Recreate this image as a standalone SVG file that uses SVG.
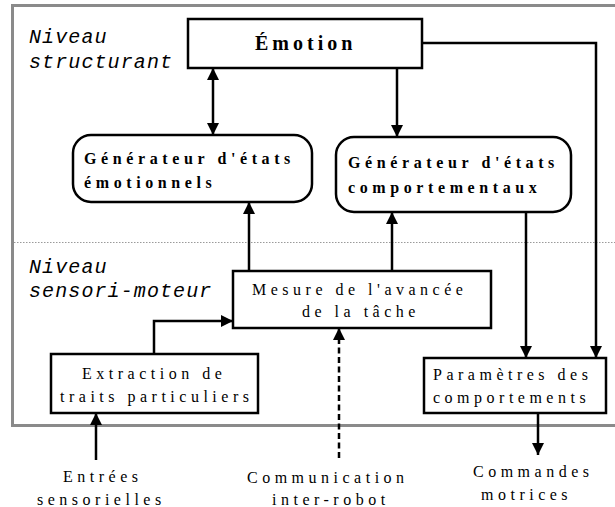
<svg xmlns="http://www.w3.org/2000/svg" width="615" height="507" viewBox="0 0 615 507">
<style>
.frame{fill:none;stroke:#8a8a8a;stroke-width:3}
.sep{stroke:#9a9a9a;stroke-width:1;stroke-dasharray:1.5 1.5}
.box{fill:#fff;stroke:#000;stroke-width:2.5}
.ln{fill:none;stroke:#000;stroke-width:2.5}
.dash{stroke-dasharray:6 3.5}
.t{font-family:'Liberation Serif','Times New Roman',Times,'DejaVu Serif',serif;font-size:16px;letter-spacing:4.5px;fill:#000}
.b{font-family:'Liberation Serif','Times New Roman',Times,'DejaVu Serif',serif;font-size:16px;font-weight:bold;letter-spacing:4.6px;fill:#000}
.big{font-size:20px;letter-spacing:4px}
.lvl{font-family:'Liberation Mono','Courier New',Courier,monospace;font-style:italic;font-size:20px;letter-spacing:1.1px;fill:#000}
</style>
<defs>
<marker id="ah" viewBox="0 0 12 12" refX="12" refY="6" markerWidth="12" markerHeight="12" markerUnits="userSpaceOnUse" orient="auto-start-reverse">
<path d="M0,0 L12,6 L0,12 z" fill="#000"/>
</marker>
</defs>
<rect class="frame" x="12.5" y="5.5" width="620" height="420"/>
<line class="sep" x1="14" y1="242.5" x2="615" y2="242.5"/>
<g id="levels">
<text class="lvl" x="29" y="43">Niveau</text>
<text class="lvl" x="29" y="68">structurant</text>
<text class="lvl" x="29" y="273">Niveau</text>
<text class="lvl" x="29" y="297">sensori-moteur</text>
</g>
<g id="connectors">
<line class="ln" x1="213" y1="68" x2="213" y2="135" marker-start="url(#ah)" marker-end="url(#ah)"/>
<line class="ln" x1="397" y1="68" x2="397" y2="137" marker-end="url(#ah)"/>
<polyline class="ln" points="422,43 596,43 596,358" marker-end="url(#ah)"/>
<line class="ln" x1="526" y1="212" x2="526" y2="358" marker-end="url(#ah)"/>
<line class="ln" x1="249" y1="271" x2="249" y2="202" marker-end="url(#ah)"/>
<line class="ln" x1="392" y1="271" x2="392" y2="212" marker-end="url(#ah)"/>
<polyline class="ln" points="154,354 154,321 233,321" marker-end="url(#ah)"/>
<line class="ln" x1="96" y1="460" x2="96" y2="413" marker-end="url(#ah)"/>
<line class="ln dash" x1="339" y1="458" x2="339" y2="328" marker-end="url(#ah)"/>
<line class="ln" x1="538" y1="413" x2="538" y2="455" marker-end="url(#ah)"/>
</g>
<g id="emotion">
<rect class="box" x="188" y="19" width="234" height="49"/>
<text class="b big" x="255" y="50">Émotion</text>
</g>
<g id="gen-emo">
<rect class="box" x="73" y="135" width="239" height="67" rx="18"/>
<text class="b" x="84" y="164">Générateur d'états</text>
<text class="b" x="84" y="188">émotionnels</text>
</g>
<g id="gen-comp">
<rect class="box" x="336" y="137" width="235" height="75" rx="18"/>
<text class="b" x="348" y="168">Générateur d'états</text>
<text class="b" x="348" y="193">comportementaux</text>
</g>
<g id="mesure">
<rect class="box" x="233" y="271" width="258" height="57"/>
<text class="t" x="252" y="295">Mesure de l'avancée</text>
<text class="t" x="302" y="317">de la tâche</text>
</g>
<g id="extraction">
<rect class="box" x="51" y="354" width="207" height="59"/>
<text class="t" x="82" y="379">Extraction de</text>
<text class="t" x="60" y="402">traits particuliers</text>
</g>
<g id="parametres">
<rect class="box" x="424" y="358" width="182" height="55"/>
<text class="t" x="433" y="380">Paramètres des</text>
<text class="t" x="433" y="403">comportements</text>
</g>
<g id="entrees">
<text class="t" x="63" y="482">Entrées</text>
<text class="t" x="37" y="505">sensorielles</text>
</g>
<g id="communication">
<text class="t" x="247" y="483">Communication</text>
<text class="t" x="272" y="505">inter-robot</text>
</g>
<g id="commandes">
<text class="t" x="473" y="477">Commandes</text>
<text class="t" x="481" y="500">motrices</text>
</g>
</svg>
